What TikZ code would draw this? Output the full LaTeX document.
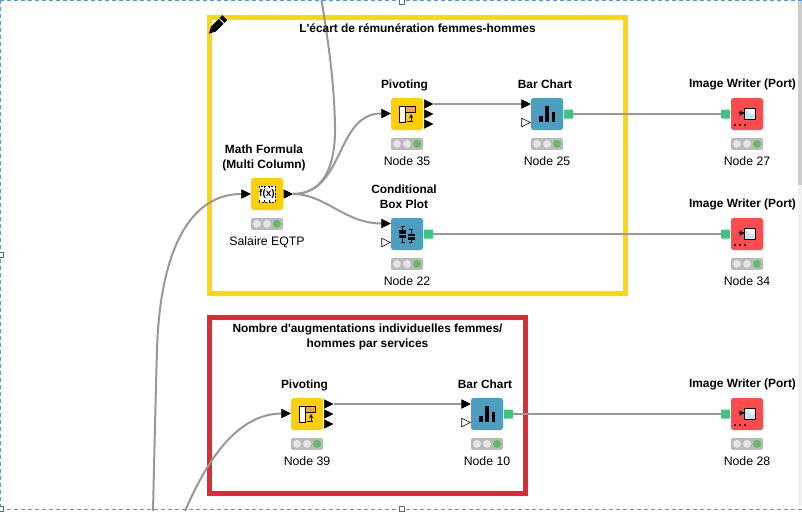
\documentclass[tikz,border=0pt]{standalone}
\usepackage{fontspec}
\setmainfont{Liberation Sans}[Ligatures=TeXOff]
\usetikzlibrary{positioning,shapes.geometric,backgrounds}
\definecolor{manipcol}{HTML}{FFCF00}
\definecolor{viewcol}{HTML}{4C9FC1}
\definecolor{writecol}{HTML}{FF4B4E}
\definecolor{yellowframe}{HTML}{FFD800}
\definecolor{redframe}{HTML}{E8282E}
\definecolor{wirecol}{HTML}{989898}
\definecolor{flowcol}{HTML}{3FC381}
\definecolor{selectcol}{HTML}{4F9FD8}
\tikzset{
	nodebody/.style={draw=none,rounded corners=2.5pt,minimum size=32pt,inner sep=0pt},
	nodetitle/.style={font=\fontsize{11.9}{15}\selectfont\bfseries,align=center,inner sep=0pt},
	nodename/.style={font=\fontsize{12.3}{15}\selectfont,inner sep=0pt,text height=9pt,text depth=0pt},
	statusbar/.style={fill=black!27,rounded corners=1.5pt,minimum width=32pt,minimum height=12pt,inner sep=0pt},
	statuslight/.style={circle,fill=#1,minimum size=8pt,inner sep=0pt},
	dataport/.style={isosceles triangle,isosceles triangle stretches,minimum height=8.5pt,minimum width=8.5pt,inner sep=0pt,draw=black,line width=.6pt,fill=#1},
	dataport/.default=black,
	imgport/.style={fill=flowcol,rounded corners=.5pt,minimum size=9pt,inner sep=0pt},
	wire/.style={draw=wirecol,line width=2pt},
	framebox/.style={draw=#1,line width=5pt,inner sep=0pt},
	selectline/.style={draw=selectcol,line width=.9pt,dash pattern=on 4pt off 3pt},
	handle/.style={draw=black!60,fill=white,line width=.5pt,inner sep=0pt,minimum size=5pt}
}
% body, traffic light and the name under it
\newcommand{\knimenode}[5]{
	\node[nodebody,fill=#4] (#1) at (#2pt,-#3pt) {};
	\node[statusbar,below=7.5pt of #1] (#1status) {};
	\node[statuslight=black!10] (#1lighta) at ([xshift=-10pt]#1status) {};
	\node[statuslight=black!10] (#1lightb) at (#1status) {};
	\node[statuslight={green!55!black!60!white}] (#1lightc) at ([xshift=10pt]#1status) {};
	\node[nodename] (#1name) at ([yshift=-47pt]#1) {#5};
}
\newcommand{\pivoticon}[1]{
	\begin{scope}[shift={(#1)},line width=.9pt]
		\draw[fill=white] (-8pt,-8pt) rectangle (-2pt,8pt);
		\draw[fill=orange!75!white] (-2pt,8pt) rectangle (8pt,2pt);
		\draw[-{stealth}] (4pt,-7.5pt) -- (4pt,0pt);
		\draw (-.5pt,-7.5pt) -- (6pt,-7.5pt);
	\end{scope}
}
\newcommand{\barsicon}[1]{
	\begin{scope}[shift={(#1)}]
		\fill (-8pt,-8pt) rectangle (-4.5pt,-2pt);
		\fill (-2pt,-8pt) rectangle (2pt,8pt);
		\fill (4.5pt,-8pt) rectangle (8pt,2pt);
	\end{scope}
}
\newcommand{\writericon}[1]{
	\begin{scope}[shift={(#1)}]
		\draw[line width=.9pt,fill=cyan!25] (-3pt,-5pt) rectangle (8pt,6pt);
		\fill[white] (-2pt,5pt) -- (7pt,5pt) -- (7pt,-1pt) -- (2pt,1pt) -- cycle;
		\draw[line width=1.3pt,-{stealth}] (-8.5pt,1pt) -- (-2.5pt,1pt);
		\fill (-12pt,-11pt) circle (1.2pt) (-7pt,-11pt) circle (1.2pt) (-2pt,-11pt) circle (1.2pt);
	\end{scope}
}
\begin{document}
\begin{tikzpicture}
	\useasboundingbox (0pt,0pt) rectangle (802pt,-511pt);

	% nodes of the first group
	\knimenode{mathcol}{267}{194}{manipcol}{Salaire EQTP}
	\knimenode{pivotA}{407}{114}{manipcol}{Node 35}
	\knimenode{barA}{547}{114}{viewcol}{Node 25}
	\knimenode{boxplot}{407}{234}{viewcol}{Node 22}
	\knimenode{writerA}{747}{114}{writecol}{Node 27}
	\knimenode{writerB}{747}{234}{writecol}{Node 34}
	% nodes of the second group
	\knimenode{pivotB}{307}{414}{manipcol}{Node 39}
	\knimenode{barB}{487}{414}{viewcol}{Node 10}
	\knimenode{writerC}{747}{414}{writecol}{Node 28}

	% titles
	\node[nodetitle] (mathcoltitle) at (264pt,-157.5pt) {Math Formula\\(Multi Column)};
	\node[nodetitle] (pivotAtitle) at (404.5pt,-85pt) {Pivoting};
	\node[nodetitle] (barAtitle) at (545pt,-84pt) {Bar Chart};
	\node[nodetitle] (boxplottitle) at (404pt,-196.5pt) {Conditional\\Box Plot};
	\node[nodetitle] (writerAtitle) at (742.5pt,-84.5pt) {Image Writer (Port)};
	\node[nodetitle] (writerBtitle) at (742.5pt,-204.5pt) {Image Writer (Port)};
	\node[nodetitle] (pivotBtitle) at (304.5pt,-385pt) {Pivoting};
	\node[nodetitle] (barBtitle) at (485pt,-384pt) {Bar Chart};
	\node[nodetitle] (writerCtitle) at (742.5pt,-384.5pt) {Image Writer (Port)};

	% ports
	\node[dataport,anchor=east] (mathcolin) at (251pt,-194pt) {};
	\node[dataport,anchor=west] (mathcolout) at (283.5pt,-194pt) {};
	\node[dataport,anchor=east] (pivotAin) at (391pt,-113.5pt) {};
	\node[dataport,anchor=west] (pivotAouta) at (424pt,-104pt) {};
	\node[dataport,anchor=west] (pivotAoutb) at (424pt,-114pt) {};
	\node[dataport,anchor=west] (pivotAoutc) at (424pt,-124pt) {};
	\node[dataport,anchor=east] (barAina) at (531pt,-104pt) {};
	\node[dataport=white,anchor=east] (barAinb) at (531pt,-122.5pt) {};
	\node[imgport,right=0.5pt of barA] (barAout) {};
	\node[imgport,left=0.5pt of writerA] (writerAin) {};
	\node[dataport,anchor=east] (boxplotina) at (391pt,-223.5pt) {};
	\node[dataport=white,anchor=east] (boxplotinb) at (391pt,-242.5pt) {};
	\node[imgport,right=0.5pt of boxplot] (boxplotout) {};
	\node[imgport,left=0.5pt of writerB] (writerBin) {};
	\node[dataport,anchor=east] (pivotBin) at (291pt,-413.5pt) {};
	\node[dataport,anchor=west] (pivotBouta) at (324pt,-404pt) {};
	\node[dataport,anchor=west] (pivotBoutb) at (324pt,-414pt) {};
	\node[dataport,anchor=west] (pivotBoutc) at (324pt,-424pt) {};
	\node[dataport,anchor=east] (barBina) at (471pt,-404pt) {};
	\node[dataport=white,anchor=east] (barBinb) at (471pt,-422.5pt) {};
	\node[imgport,right=0.5pt of barB] (barBout) {};
	\node[imgport,left=0.5pt of writerC] (writerCin) {};

	% icons
	\pivoticon{pivotA}
	\pivoticon{pivotB}
	\barsicon{barA}
	\barsicon{barB}
	\writericon{writerA}
	\writericon{writerB}
	\writericon{writerC}
	\begin{scope}[shift={(mathcol)}]
		\fill[white] (-8pt,-8pt) rectangle (8pt,8pt);
		\draw[line width=.8pt,dash pattern=on 2pt off 1.5pt] (-8pt,-8pt) rectangle (8pt,8pt) (-2.7pt,-8pt) -- (-2.7pt,8pt) (2.7pt,-8pt) -- (2.7pt,8pt);
		\node[font=\fontsize{10}{10}\selectfont\bfseries,inner sep=0pt,fill=white] (mathcolicon) at (0pt,0pt) {f(x)};
	\end{scope}
	\begin{scope}[shift={(boxplot)}]
		\draw[line width=.9pt] (-6.5pt,8pt) -- (-2.5pt,8pt) (-4.5pt,8pt) -- (-4.5pt,-8pt) (-6.5pt,-8pt) -- (-2.5pt,-8pt);
		\fill (-8pt,4pt) rectangle (-1pt,-4pt);
		\draw[viewcol,line width=.7pt] (-8pt,0pt) -- (-1pt,0pt);
		\draw[line width=.9pt] (2pt,5pt) -- (6pt,5pt) (4pt,5pt) -- (4pt,-8pt) (2pt,-8pt) -- (6pt,-8pt);
		\fill (.5pt,0pt) rectangle (7.5pt,-6pt);
		\draw[viewcol,line width=.7pt] (.5pt,-2.5pt) -- (7.5pt,-2.5pt);
	\end{scope}

	% frame titles and pencil
	\node[nodetitle] (groupAtitle) at (417.5pt,-28pt) {L'écart de rémunération femmes-hommes};
	\node[nodetitle] (groupBtitle) at (367.5pt,-336.5pt) {Nombre d'augmentations individuelles femmes/\\hommes par services};
	\begin{scope}[shift={(217pt,-25.5pt)},rotate=-45]
		\fill (0pt,-11.5pt) -- (3.5pt,-5pt) -- (3.5pt,6pt) -- (-3.5pt,6pt) -- (-3.5pt,-5pt) -- cycle;
		\fill (-3.5pt,7.2pt) rectangle (3.5pt,11pt);
	\end{scope}

	% free ends of the wires
	\coordinate (wiretop) at (321.5pt,0pt);
	\coordinate (wirebottomA) at (153pt,-511pt);
	\coordinate (wirebottomB) at (185pt,-511pt);

	\begin{scope}[on background layer]
		\node[framebox=yellowframe,minimum width=416pt,minimum height=276pt] (groupA) at (417.5pt,-155.5pt) {};
		\node[framebox=redframe,minimum width=316pt,minimum height=176pt] (groupB) at (367.5pt,-405.5pt) {};
		\draw[wire] (mathcolout.east) .. controls (318pt,-194pt) and (336pt,-175pt) .. (335pt,-125pt) .. controls (334pt,-80pt) and (328pt,-40pt) .. (wiretop);
		\draw[wire] (mathcolout.east) .. controls (345pt,-194pt) and (335pt,-113.5pt) .. (pivotAin.west);
		\draw[wire] (mathcolout.east) .. controls (325pt,-194pt) and (345pt,-223.5pt) .. (boxplotina.west);
		\draw[wire] (pivotAouta.east) -- (barAina.west);
		\draw[wire] (barAout.east) -- (writerAin.west);
		\draw[wire] (boxplotout.east) -- (writerBin.west);
		\draw[wire] (mathcolin.west) .. controls (190pt,-194pt) and (160pt,-250pt) .. (157pt,-350pt) .. controls (155pt,-420pt) and (154pt,-470pt) .. (wirebottomA);
		\draw[wire] (pivotBin.west) .. controls (235pt,-414pt) and (205pt,-465pt) .. (wirebottomB);
		\draw[wire] (pivotBouta.east) -- (barBina.west);
		\draw[wire] (barBout.east) -- (writerCin.west);
	\end{scope}

	% selection of the view and scrollbar
	\fill[black!6] (798pt,0pt) rectangle (802pt,-506pt);
	\fill[black!20] (798pt,0pt) rectangle (802pt,-185pt);
	\draw[selectline] (0pt,-0.5pt) -- (802pt,-0.5pt);
	\draw[selectline] (0.5pt,0pt) -- (0.5pt,-510pt);
	\draw[selectline] (0pt,-509.5pt) -- (802pt,-509.5pt);
	\node[handle] (handletop) at (402pt,-2pt) {};
	\node[handle] (handleleft) at (1pt,-255pt) {};
	\node[handle] (handlebottom) at (402pt,-509pt) {};
	\node[handle] (handlecorner) at (1pt,-509pt) {};
\end{tikzpicture}
\end{document}
